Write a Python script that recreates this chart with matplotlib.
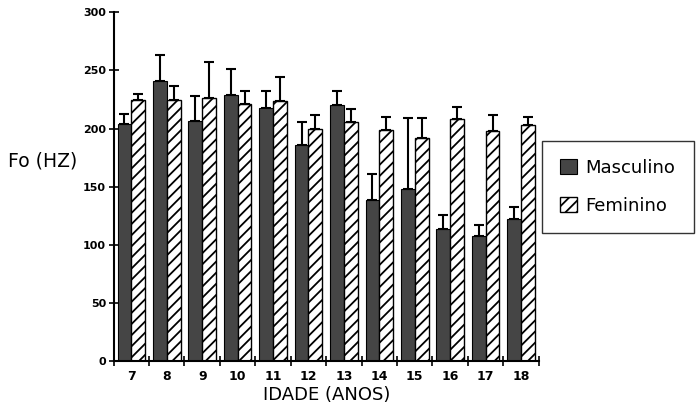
import matplotlib
matplotlib.use("Agg")
import matplotlib.pyplot as plt
import numpy as np

ages = [7, 8, 9, 10, 11, 12, 13, 14, 15, 16, 17, 18]
masc = [204, 241, 207, 229, 218, 186, 220, 139, 148, 114, 108, 122]
masc_err = [9, 22, 21, 22, 14, 20, 12, 22, 61, 12, 9, 11]
fem = [225, 225, 226, 221, 224, 200, 206, 199, 192, 208, 198, 203]
fem_err = [5, 12, 31, 11, 20, 12, 11, 11, 17, 11, 14, 7]
yticks = [0, 50, 100, 150, 200, 250, 300]

plt.rcParams['hatch.linewidth'] = 1.3
plt.rcParams['font.family'] = ['DejaVu Sans']

fig = plt.figure(figsize=(6.97, 4.08), dpi=100)
ax = fig.add_axes([0.163, 0.114, 0.610, 0.856])

x = np.arange(len(ages))
w = 0.39
ax.bar(x - w / 2, masc, w, color='#454545', edgecolor='black', linewidth=0.8,
       yerr=[np.zeros(len(masc)), masc_err], capsize=3.5,
       error_kw=dict(ecolor='black', elinewidth=1.5, capthick=1.5),
       label='Masculino', zorder=2)
ax.bar(x + w / 2, fem, w, color='white', edgecolor='black', linewidth=1.0,
       hatch='///', yerr=[np.zeros(len(fem)), fem_err], capsize=3.5,
       error_kw=dict(ecolor='black', elinewidth=1.5, capthick=1.5),
       label='Feminino', zorder=2)

ax.set_xlim(-0.5, len(ages) - 0.5)
ax.set_ylim(0, 300)
ax.spines['top'].set_visible(False)
ax.spines['right'].set_visible(False)
ax.spines['left'].set_linewidth(1.5)
ax.spines['bottom'].set_linewidth(1.5)

ax.set_yticks(yticks)
ax.set_yticklabels([str(t) for t in yticks], fontsize=8, fontweight='bold')
ax.set_xticks(x)
ax.set_xticklabels([str(a) for a in ages], fontsize=9, fontweight='bold')
ax.tick_params(axis='x', length=0, pad=6)
ax.set_xticks(np.arange(-0.5, len(ages)), minor=True)
ax.tick_params(axis='x', which='minor', direction='inout', length=7, width=1.2)
ax.tick_params(axis='y', direction='inout', length=7, width=1.2, pad=2)

ax.set_xlabel('IDADE (ANOS)', fontsize=13, labelpad=2)
fig.text(0.012, 0.605, 'Fo (HZ)', fontsize=13.5, va='center', ha='left')

leg = fig.legend(loc='upper left', bbox_to_anchor=(0.778, 0.655), frameon=True,
                 fancybox=False, edgecolor='black', fontsize=13,
                 handlelength=0.9, handleheight=0.9, handletextpad=0.5,
                 borderpad=1.0, labelspacing=1.1, borderaxespad=0)
leg.get_frame().set_linewidth(1.0)

fig.savefig('out.png', dpi=100)
